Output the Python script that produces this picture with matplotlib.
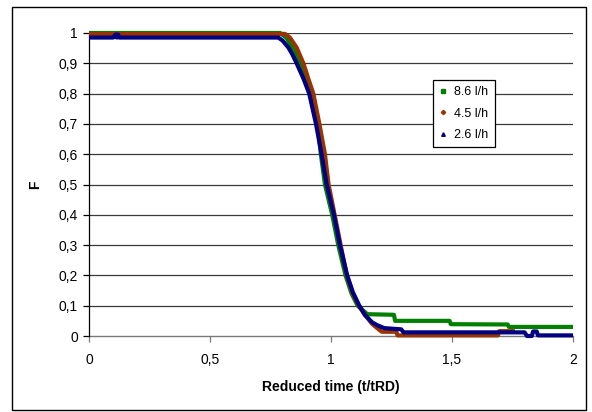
import matplotlib
matplotlib.use("Agg")
import matplotlib.pyplot as plt
from matplotlib.lines import Line2D
from matplotlib.patches import Rectangle

plt.rcParams['font.family'] = ['Liberation Sans', 'DejaVu Sans']

# ---- data ----
series_labels = ["8.6 l/h", "4.5 l/h", "2.6 l/h"]
series_colors = ["#008000", "#993300", "#000080"]

t_86 = [0.00, 0.79, 0.815, 0.841, 0.872, 0.897, 0.917, 0.945, 0.958, 0.975,
        1.005, 1.03, 1.06, 1.085, 1.11, 1.13, 1.15, 1.26, 1.265, 1.49, 1.495, 1.73,
        1.735, 2.00]
F_86 = [1.000, 1.000, 0.985, 0.952, 0.900, 0.850, 0.800, 0.700, 0.600, 0.500,
        0.400, 0.300, 0.200, 0.140, 0.100, 0.086, 0.072, 0.070, 0.050, 0.050, 0.039, 0.038,
        0.030, 0.030]

t_45 = [0.00, 0.81, 0.83, 0.858, 0.886, 0.906, 0.927, 0.952, 0.975, 0.99, 1.015,
        1.04, 1.065, 1.09, 1.115, 1.14, 1.17, 1.20, 1.21, 1.27, 1.275, 1.69, 1.695,
        1.76]
F_45 = [0.997, 0.997, 0.985, 0.952, 0.900, 0.850, 0.800, 0.700, 0.600, 0.500, 0.400,
        0.300, 0.200, 0.140, 0.100, 0.070, 0.040, 0.020, 0.014, 0.014, 0.002, 0.002, 0.016,
        0.016]

t_26 = [0.00, 0.10, 0.11, 0.115, 0.12, 0.125, 0.782, 0.80, 0.824, 0.84, 0.858, 0.886,
        0.91, 0.938, 0.961, 0.982, 1.012, 1.037, 1.067, 1.09, 1.117, 1.14, 1.17, 1.19,
        1.22, 1.29, 1.30, 1.80, 1.81, 1.83, 1.835, 1.85, 1.855, 2.00]
F_26 = [0.985, 0.985, 0.995, 0.985, 0.995, 0.985, 0.985, 0.975, 0.952, 0.930, 0.900, 0.850,
        0.800, 0.700, 0.600, 0.500, 0.400, 0.300, 0.200, 0.145, 0.100, 0.070, 0.045, 0.036,
        0.026, 0.022, 0.012, 0.012, 0.000, 0.000, 0.015, 0.015, 0.002, 0.002]

y_ticks = [0, 0.1, 0.2, 0.3, 0.4, 0.5, 0.6, 0.7, 0.8, 0.9, 1.0]
y_tick_labels = ["0", "0,1", "0,2", "0,3", "0,4", "0,5", "0,6", "0,7", "0,8", "0,9", "1"]
x_ticks = [0, 0.5, 1.0, 1.5, 2.0]
x_tick_labels = ["0", "0,5", "1", "1,5", "2"]

xlabel = "Reduced time (t/tRD)"
ylabel = "F"

# ---- figure ----
W, H = 592, 412
fig = plt.figure(figsize=(W / 100, H / 100), dpi=100)
fig.patch.set_facecolor("white")

# outer chart-area frame
fig.patches.append(Rectangle((12 / W, 1 - 410 / H), (586 - 12) / W, (410 - 7) / H,
                             transform=fig.transFigure, fill=False, edgecolor="black",
                             linewidth=1.0))

ax = fig.add_axes([89 / W, 1 - 336 / H, (573 - 89) / W, (336 - 33) / H])
ax.set_xlim(0, 2)
ax.set_ylim(0, 1)

for yv in y_ticks[1:]:
    ax.axhline(yv, color="#3a3a3a", linewidth=0.9, zorder=1)

data = [(t_86, F_86), (t_45, F_45), (t_26, F_26)]
for (tx, fy), col in zip(data, series_colors):
    ax.plot(tx, fy, color=col, linewidth=3.0, solid_joinstyle="round",
            solid_capstyle="butt", zorder=3, clip_on=False)

ax.spines['top'].set_visible(False)
ax.spines['right'].set_visible(False)
ax.spines['left'].set_color("black")
ax.spines['left'].set_linewidth(0.9)
ax.spines['bottom'].set_color("#7a7a7a")
ax.spines['bottom'].set_linewidth(1.0)
ax.spines['bottom'].set_zorder(2)

ax.set_yticks(y_ticks)
ax.set_yticklabels(y_tick_labels)
ax.set_xticks(x_ticks)
ax.set_xticklabels(x_tick_labels)
ax.tick_params(axis='y', direction='out', length=4, width=0.9, color='black',
               labelsize=10, pad=4)
ax.tick_params(axis='x', direction='out', length=4, width=0.9, color='#7a7a7a',
               labelsize=10, pad=8)

fig.text(331 / W, 1 - 387 / H, xlabel, ha='center', va='center',
         fontsize=10, fontweight='bold')
fig.text(35 / W, 1 - 184.5 / H, ylabel, ha='center', va='center',
         fontsize=10, fontweight='bold', rotation=90)

markers = ['s', 'D', '^']
msizes = [3.2, 2.2, 2.6]
handles = [Line2D([], [], linestyle='none', marker=m, markersize=s, color=c,
                  markeredgecolor=c)
           for m, s, c in zip(markers, msizes, series_colors)]
leg = ax.legend(handles, series_labels, loc='upper left',
                bbox_to_anchor=((433 - 89) / 484, (336 - 80) / 303),
                fontsize=9, frameon=True, fancybox=False, shadow=False,
                edgecolor='black', framealpha=1.0, handlelength=0.6,
                handletextpad=0.6, labelspacing=0.75, borderpad=0.5,
                borderaxespad=0.0)
leg.get_frame().set_linewidth(0.9)
leg.set_zorder(5)

fig.savefig("out.png", dpi=100, facecolor="white")
